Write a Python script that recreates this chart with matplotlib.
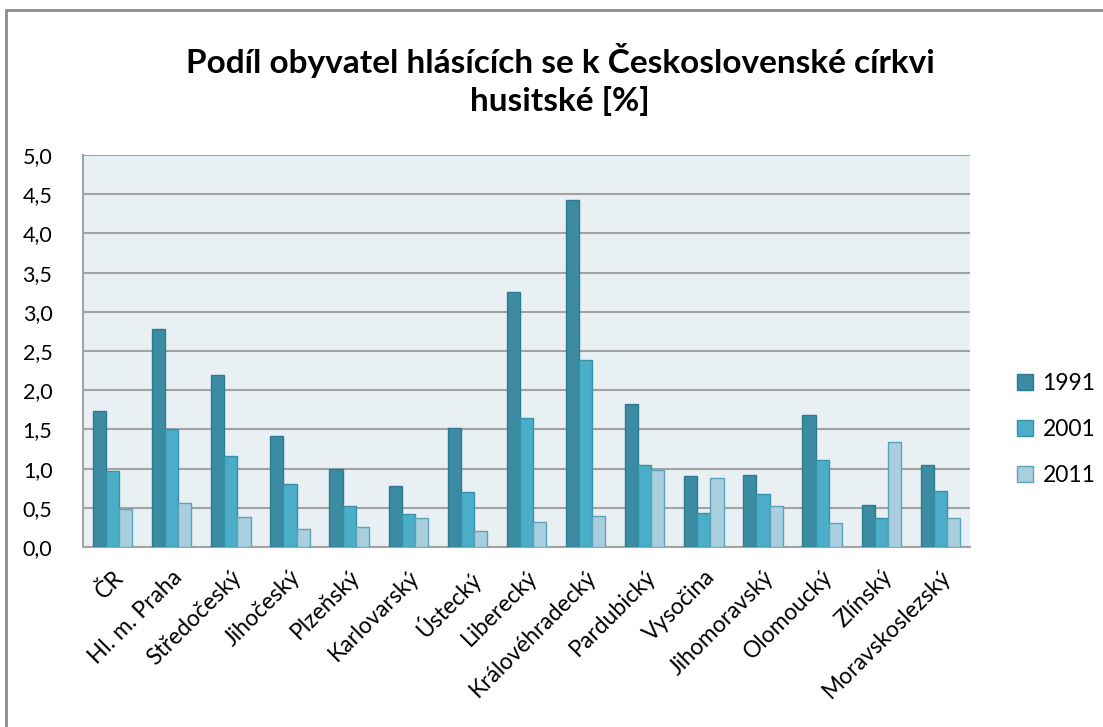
import numpy as np
import matplotlib
matplotlib.use("Agg")
import matplotlib.pyplot as plt
from matplotlib.patches import Rectangle

# Data
regions = ["ČR", "Hl. m. Praha", "Středočeský", "Jihočeský", "Plzeňský",
           "Karlovarský", "Ústecký", "Liberecký", "Královéhradecký", "Pardubický",
           "Vysočina", "Jihomoravský", "Olomoucký", "Zlínský", "Moravskoslezský"]
years = ["1991", "2001", "2011"]
share_1991 = [1.73, 2.78, 2.19, 1.41, 0.99, 0.78, 1.52, 3.25, 4.42, 1.83,
              0.90, 0.92, 1.68, 0.54, 1.05]
share_2001 = [0.97, 1.50, 1.16, 0.80, 0.52, 0.42, 0.70, 1.64, 2.39, 1.05,
              0.43, 0.67, 1.11, 0.37, 0.71]
share_2011 = [0.49, 0.56, 0.38, 0.23, 0.26, 0.37, 0.21, 0.32, 0.40, 0.98,
              0.88, 0.52, 0.31, 1.34, 0.37]
y_ticks = [0.0, 0.5, 1.0, 1.5, 2.0, 2.5, 3.0, 3.5, 4.0, 4.5, 5.0]

faces = ["#3b8ba3", "#4badc7", "#a9cfde"]
edges = ["#2e7a90", "#3692ab", "#5aa3ba"]

plt.rcParams["font.family"] = ["Lato", "DejaVu Sans"]

fig = plt.figure(figsize=(11.03, 7.27), dpi=100)
ax = fig.add_axes([83 / 1103, 1 - 547 / 727, (970 - 83) / 1103, (547 - 155) / 727])

# outer chart border
fig.patches.append(Rectangle((6 / 1103, -0.2), 1.2, 1.2 - 10 / 727, transform=fig.transFigure,
                             fill=False, edgecolor="#8c8c8c", linewidth=2, zorder=0))

x = np.arange(len(regions))
width = 1 / 4.5
for i, vals in enumerate([share_1991, share_2001, share_2011]):
    ax.bar(x + (i - 1) * width, vals, width, color=faces[i], edgecolor=edges[i],
           linewidth=1, label=years[i], zorder=3)

ax.set_facecolor("#e8f0f4")
ax.set_xlim(-0.5, len(regions) - 0.5)
ax.set_ylim(0, 5)
ax.set_yticks(y_ticks)
ax.set_yticklabels([f"{v:.1f}".replace(".", ",") for v in y_ticks], fontsize=15.5)
ax.yaxis.grid(True, color="#a3a3a3", linewidth=1.5, zorder=1)
ax.set_axisbelow(True)
ax.tick_params(axis="both", length=0)
ax.tick_params(axis="y", pad=22)
ax.set_xticks(x)
ax.set_xticklabels(regions, rotation=45, ha="right", rotation_mode="anchor", fontsize=16.5)
ax.tick_params(axis="x", pad=14)
for side in ["top", "right"]:
    ax.spines[side].set_visible(False)
for side in ["left", "bottom"]:
    ax.spines[side].set_color("#a3a3a3")
    ax.spines[side].set_linewidth(1.5)

fig.text(0.508, 1 - 80 / 727, "Podíl obyvatel hlásících se k Československé církvi\nhusitské [%]",
         ha="center", va="center", fontsize=24, fontweight="bold", linespacing=1.32)

ax.legend(loc="center left", bbox_to_anchor=(1.03, 0.30), frameon=False, fontsize=16.5,
          handlelength=0.7, handleheight=0.7, handletextpad=0.4, labelspacing=1.1)

fig.savefig("out.png", dpi=100)
